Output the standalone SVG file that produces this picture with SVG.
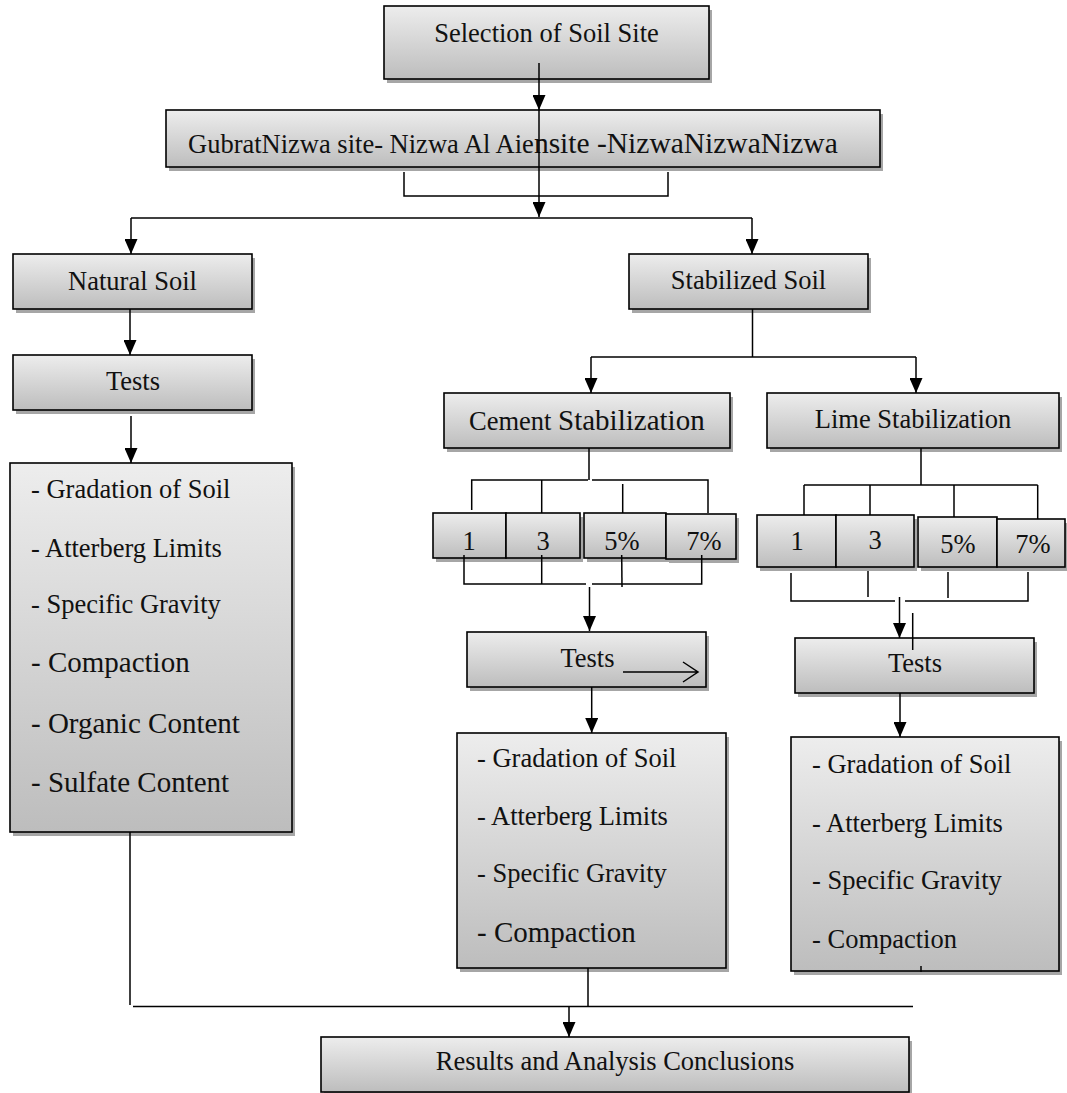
<svg xmlns="http://www.w3.org/2000/svg" width="1067" height="1093" viewBox="0 0 1067 1093">
<defs>
<linearGradient id="g" x1="0" y1="0" x2="0" y2="1">
<stop offset="0" stop-color="#ededed"/>
<stop offset="1" stop-color="#bdbdbd"/>
</linearGradient>
<marker id="ah" viewBox="0 0 15 13" refX="15" refY="6.5" markerWidth="15" markerHeight="13" markerUnits="userSpaceOnUse" orient="auto">
<path d="M0,0 L15,6.5 L0,13 z" fill="#000"/>
</marker>
</defs>
<style>
.box{fill:url(#g);stroke:#000;stroke-width:1.6}
.sh{fill:#a6a6a6}
.t{font-family:"Liberation Serif","Times New Roman",serif;font-size:26.5px;fill:#111}
.m{text-anchor:middle}
.big{font-size:29px}
.c{stroke:#000;stroke-width:1.5;fill:none}
.a{marker-end:url(#ah)}
</style>
<rect width="1067" height="1093" fill="#fff"/>

<g id="selection">
<rect class="sh" x="387" y="10" width="325" height="73"/>
<rect class="box" x="384" y="6" width="325" height="73"/>
<text class="t m" x="546.5" y="42">Selection of Soil Site</text>
</g>
<g id="sites">
<rect class="sh" x="169" y="114" width="714" height="57"/>
<rect class="box" x="166" y="110" width="714" height="57"/>
<text class="t" x="188" y="153">GubratNizwa site- Nizwa Al Aie<tspan font-size="29.5px">nsite -NizwaNizwaNizwa</tspan></text>
</g>
<g id="natural">
<rect class="sh" x="16" y="258" width="239" height="55"/>
<rect class="box" x="13" y="254" width="239" height="55"/>
<text class="t m" x="132.5" y="290">Natural Soil</text>
</g>
<g id="natural-tests">
<rect class="sh" x="16" y="359" width="239" height="55"/>
<rect class="box" x="13" y="355" width="239" height="55"/>
<text class="t m" x="133" y="390">Tests</text>
</g>
<g id="natural-list">
<rect class="sh" x="13" y="467" width="282" height="369"/>
<rect class="box" x="10" y="463" width="282" height="369"/>
<text class="t" x="31" y="498">- Gradation of Soil</text>
<text class="t" x="31" y="557">- Atterberg Limits</text>
<text class="t" x="31" y="613">- Specific Gravity</text>
<text class="t big" x="31" y="672">- Compaction</text>
<text class="t big" x="31" y="733">- Organic Content</text>
<text class="t big" x="31" y="792">- Sulfate Content</text>
</g>
<g id="stabilized">
<rect class="sh" x="632" y="258" width="239" height="55"/>
<rect class="box" x="629" y="254" width="239" height="55"/>
<text class="t m" x="748.5" y="289">Stabilized Soil</text>
</g>
<g id="cement">
<rect class="sh" x="447" y="397" width="286" height="55"/>
<rect class="box" x="444" y="393" width="286" height="55"/>
<text class="t" x="469" y="430">Cement <tspan class="big">Stabilization</tspan></text>
</g>
<g id="lime">
<rect class="sh" x="770" y="397" width="292" height="55"/>
<rect class="box" x="767" y="393" width="292" height="55"/>
<text class="t m" x="913" y="428">Lime Stabilization</text>
</g>
<g id="cement-1">
<rect class="sh" x="436" y="517" width="73" height="45"/>
<rect class="box" x="433" y="513" width="73" height="45"/>
<text class="t m" x="469" y="550">1</text>
</g>
<g id="cement-3">
<rect class="sh" x="509" y="517" width="74" height="45"/>
<rect class="box" x="506" y="513" width="74" height="45"/>
<text class="t m" x="543" y="550">3</text>
</g>
<g id="cement-5">
<rect class="sh" x="587" y="517" width="82" height="45"/>
<rect class="box" x="584" y="513" width="82" height="45"/>
<text class="t m" x="622" y="550">5%</text>
</g>
<g id="cement-7">
<rect class="sh" x="669" y="518" width="70" height="45"/>
<rect class="box" x="666" y="514" width="70" height="45"/>
<text class="t m" x="704" y="550">7%</text>
</g>
<g id="lime-1">
<rect class="sh" x="760" y="519" width="79" height="52"/>
<rect class="box" x="757" y="515" width="79" height="52"/>
<text class="t m" x="797" y="550">1</text>
</g>
<g id="lime-3">
<rect class="sh" x="839" y="519" width="78" height="52"/>
<rect class="box" x="836" y="515" width="78" height="52"/>
<text class="t m" x="875" y="549">3</text>
</g>
<g id="lime-5">
<rect class="sh" x="921" y="521" width="79" height="50"/>
<rect class="box" x="918" y="517" width="79" height="50"/>
<text class="t m" x="958" y="553">5%</text>
</g>
<g id="lime-7">
<rect class="sh" x="1000" y="523" width="68" height="48"/>
<rect class="box" x="997" y="519" width="68" height="48"/>
<text class="t m" x="1033" y="553">7%</text>
</g>
<g id="cement-tests">
<rect class="sh" x="470" y="636" width="239" height="55"/>
<rect class="box" x="467" y="632" width="239" height="55"/>
<text class="t m" x="587.5" y="667">Tests</text>
</g>
<g id="lime-tests">
<rect class="sh" x="798" y="642" width="239" height="55"/>
<rect class="box" x="795" y="638" width="239" height="55"/>
<text class="t m" x="915" y="672">Tests</text>
</g>
<g id="cement-list">
<rect class="sh" x="460" y="737" width="269" height="235"/>
<rect class="box" x="457" y="733" width="269" height="235"/>
<text class="t" x="477" y="767">- Gradation of Soil</text>
<text class="t" x="477" y="825">- Atterberg Limits</text>
<text class="t" x="477" y="882">- Specific Gravity</text>
<text class="t big" x="477" y="942">- Compaction</text>
</g>
<g id="lime-list">
<rect class="sh" x="794" y="741" width="268" height="234"/>
<rect class="box" x="791" y="737" width="268" height="234"/>
<text class="t" x="812" y="773">- Gradation of Soil</text>
<text class="t" x="812" y="832">- Atterberg Limits</text>
<text class="t" x="812" y="889">- Specific Gravity</text>
<text class="t" x="812" y="948">- Compaction</text>
</g>
<g id="results">
<rect class="sh" x="324" y="1041" width="588" height="52"/>
<rect class="box" x="321" y="1037" width="588" height="55"/>
<text class="t m" x="615" y="1070">Results and Analysis Conclusions</text>
</g>

<g id="connectors">
<line class="c a" x1="539" y1="63" x2="539" y2="110"/>
<line class="c" x1="539" y1="110" x2="539" y2="180"/>
<line class="c a" x1="539" y1="180" x2="539" y2="217"/>
<polyline class="c" points="404,172 404,196 668,196 668,172"/>
<line class="c" x1="131" y1="218" x2="752" y2="218"/>
<line class="c a" x1="131" y1="218" x2="131" y2="254"/>
<line class="c a" x1="752" y1="218" x2="752" y2="254"/>
<line class="c a" x1="130" y1="309" x2="130" y2="355"/>
<line class="c a" x1="131" y1="416" x2="131" y2="463"/>
<line class="c" x1="752.5" y1="309" x2="752.5" y2="357"/>
<line class="c" x1="591" y1="357" x2="916" y2="357"/>
<line class="c a" x1="591" y1="357" x2="591" y2="393"/>
<line class="c a" x1="916" y1="357" x2="916" y2="393"/>
<line class="c" x1="589" y1="448" x2="589" y2="480"/>
<polyline class="c" points="471.7,510 471.7,480 588,480"/>
<line class="c" x1="541.7" y1="480" x2="541.7" y2="513"/>
<polyline class="c" points="592,480 708,480 708,513"/>
<line class="c" x1="622.7" y1="484" x2="622.7" y2="513"/>
<polyline class="c" points="464,555 464,584 586,584"/>
<line class="c" x1="541.7" y1="555" x2="541.7" y2="584"/>
<line class="c" x1="621.7" y1="555" x2="622" y2="587"/>
<polyline class="c" points="592,584 701.7,584 701.7,555"/>
<line class="c a" x1="589.5" y1="587" x2="589.5" y2="631"/>
<path class="c" d="M623,672 L698,672 M683,662 L698,672 L683,682"/>
<line class="c a" x1="591.7" y1="687" x2="591.7" y2="733"/>
<line class="c" x1="921" y1="448" x2="921" y2="485"/>
<line class="c" x1="804" y1="485" x2="1037.7" y2="485"/>
<line class="c" x1="804" y1="485" x2="804" y2="515"/>
<line class="c" x1="870" y1="485" x2="870" y2="515"/>
<line class="c" x1="954" y1="485" x2="954" y2="517"/>
<line class="c" x1="1037.7" y1="485" x2="1037.7" y2="519"/>
<polyline class="c" points="791,573 791,601 895,601"/>
<line class="c" x1="868" y1="571" x2="868" y2="597"/>
<line class="c" x1="948" y1="572" x2="948" y2="598"/>
<polyline class="c" points="905,601 1028,601 1028,572"/>
<line class="c a" x1="899.5" y1="597" x2="899.5" y2="638"/>
<line class="c" x1="912.7" y1="613" x2="912.7" y2="650"/>
<line class="c a" x1="900" y1="693" x2="900" y2="737"/>
<line class="c" x1="921" y1="966" x2="921" y2="972" stroke="#666"/>
<line class="c" x1="130" y1="832" x2="130" y2="1005"/>
<line class="c" x1="133" y1="1006.5" x2="913" y2="1006.5"/>
<line class="c" x1="588" y1="968" x2="588" y2="1006.5"/>
<line class="c a" x1="569" y1="1006.5" x2="569" y2="1037"/>
</g>
</svg>
